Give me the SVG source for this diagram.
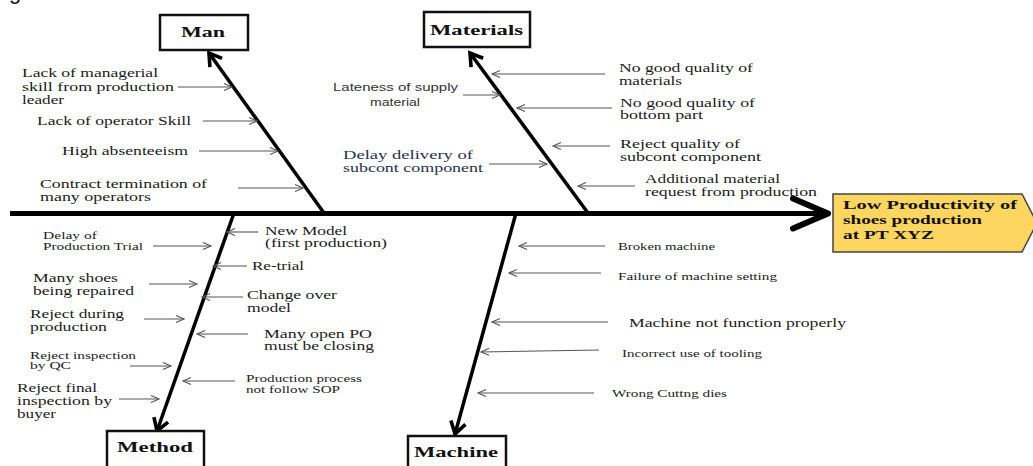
<svg xmlns="http://www.w3.org/2000/svg" width="1033" height="466" viewBox="0 0 1033 466">
<style>
.t{font-family:"Liberation Serif","Times New Roman",serif;font-size:12px;fill:#1c1c1c}
.s{font-size:10px}
.sans{font-family:"Liberation Sans",Arial,sans-serif;font-size:10px;fill:#333}
.navy{fill:#26324f}
.cat{font-family:"Liberation Serif","Times New Roman",serif;font-weight:bold;font-size:15px;fill:#111}
.hd{font-family:"Liberation Serif","Times New Roman",serif;font-weight:bold;font-size:13.5px;fill:#111}
.box{fill:#fff;stroke:#111;stroke-width:2.5}
.bone{stroke:#000;stroke-width:3.5;fill:none;marker-end:url(#b)}
.br{stroke:#555;stroke-width:1.1;fill:none;marker-end:url(#a)}
</style>
<defs>
<marker id="a" markerUnits="userSpaceOnUse" viewBox="-10 -5 12 10" markerWidth="12" markerHeight="10" refX="0" refY="0" orient="auto">
<path d="M-8,-3.5 L0,0 L-8,3.5" fill="none" stroke="#555" stroke-width="1.1"/>
</marker>
<marker id="b" markerUnits="userSpaceOnUse" viewBox="-16 -11 20 22" markerWidth="20" markerHeight="22" refX="0" refY="0" orient="auto">
<path d="M-12,-7.5 L0,0 L-12,7.5" fill="none" stroke="#000" stroke-width="3.6" stroke-linejoin="miter"/>
</marker>
<marker id="sp" markerUnits="userSpaceOnUse" viewBox="-40 -20 46 40" markerWidth="46" markerHeight="40" refX="0" refY="0" orient="auto">
<path d="M-35,-15 L0,0 L-35,15" fill="none" stroke="#000" stroke-width="6" stroke-linecap="round" stroke-linejoin="round"/>
</marker>
</defs>

<text x="9" y="-1" style="font-family:'Liberation Sans',Arial,sans-serif;font-size:22px;fill:#111">g</text>

<g id="connectors">
<line x1="10" y1="213.5" x2="828" y2="213.5" stroke="#000" stroke-width="5" marker-end="url(#sp)"/>
<line class="bone" x1="324" y1="213" x2="209" y2="53"/>
<line class="bone" x1="588" y1="213" x2="470" y2="53"/>
<line class="bone" x1="234" y1="213" x2="157" y2="431"/>
<line class="bone" x1="516" y1="213" x2="455" y2="434"/>
<!-- Man branches -->
<line class="br" x1="178" y1="87" x2="232" y2="87"/>
<line class="br" x1="203" y1="121" x2="257" y2="121"/>
<line class="br" x1="199" y1="151" x2="278" y2="151"/>
<line class="br" x1="238" y1="188" x2="303" y2="188"/>
<!-- Materials branches -->
<line class="br" x1="463" y1="95" x2="500" y2="95"/>
<line class="br" x1="489" y1="164" x2="547" y2="164"/>
<line class="br" x1="605" y1="74" x2="492" y2="74"/>
<line class="br" x1="612" y1="108" x2="517" y2="108"/>
<line class="br" x1="610" y1="146" x2="553" y2="146"/>
<line class="br" x1="635" y1="186" x2="578" y2="186"/>
<!-- Method branches -->
<line class="br" x1="258" y1="232" x2="227" y2="232"/>
<line class="br" x1="247" y1="266" x2="213" y2="266"/>
<line class="br" x1="243" y1="297" x2="202" y2="297"/>
<line class="br" x1="248" y1="334" x2="197" y2="334"/>
<line class="br" x1="235" y1="381" x2="183" y2="381"/>
<line class="br" x1="153" y1="246" x2="211" y2="246"/>
<line class="br" x1="149" y1="284" x2="197" y2="284"/>
<line class="br" x1="144" y1="319" x2="184" y2="319"/>
<line class="br" x1="130" y1="366" x2="171" y2="366"/>
<line class="br" x1="119" y1="399" x2="159" y2="399"/>
<!-- Machine branches -->
<line class="br" x1="605" y1="246" x2="519" y2="246"/>
<line class="br" x1="601" y1="273" x2="509" y2="273"/>
<line class="br" x1="608" y1="322" x2="492" y2="322"/>
<line class="br" x1="599" y1="350" x2="481" y2="352"/>
<line class="br" x1="594" y1="393" x2="478" y2="393"/>
</g>

<g id="head">
<path d="M833,194 L1022,194 L1037,223 L1022,252 L833,252 Z" fill="#fdd662" stroke="#444" stroke-width="1.5"/>
<text class="hd" x="843" y="209" textLength="174" lengthAdjust="spacingAndGlyphs">Low Productivity of</text>
<text class="hd" x="843" y="224" textLength="139" lengthAdjust="spacingAndGlyphs">shoes production</text>
<text class="hd" x="843" y="239" textLength="91" lengthAdjust="spacingAndGlyphs">at PT XYZ</text>
</g>

<g id="man">
<rect class="box" x="160" y="15" width="88" height="35"/>
<text class="cat" x="181" y="37" textLength="44" lengthAdjust="spacingAndGlyphs">Man</text>
<text class="t" x="22" y="77" textLength="136" lengthAdjust="spacingAndGlyphs">Lack of managerial</text>
<text class="t" x="22" y="91" textLength="152" lengthAdjust="spacingAndGlyphs">skill from production</text>
<text class="t" x="22" y="104" textLength="42" lengthAdjust="spacingAndGlyphs">leader</text>
<text class="t" x="37" y="125" textLength="154" lengthAdjust="spacingAndGlyphs">Lack of operator Skill</text>
<text class="t" x="62" y="155" textLength="126" lengthAdjust="spacingAndGlyphs">High absenteeism</text>
<text class="t" x="40" y="188" textLength="167" lengthAdjust="spacingAndGlyphs">Contract termination of</text>
<text class="t" x="40" y="201" textLength="111" lengthAdjust="spacingAndGlyphs">many operators</text>
</g>

<g id="materials">
<rect class="box" x="424" y="12" width="106" height="35"/>
<text class="cat" x="430" y="35" textLength="93" lengthAdjust="spacingAndGlyphs">Materials</text>
<text class="sans" x="333" y="91" textLength="125" lengthAdjust="spacingAndGlyphs">Lateness of supply</text>
<text class="sans" x="370" y="106" textLength="50" lengthAdjust="spacingAndGlyphs">material</text>
<text class="t navy" x="343" y="159" textLength="130" lengthAdjust="spacingAndGlyphs">Delay delivery of</text>
<text class="t navy" x="343" y="172" textLength="140" lengthAdjust="spacingAndGlyphs">subcont component</text>
<text class="t" x="619" y="72" textLength="134" lengthAdjust="spacingAndGlyphs">No good quality of</text>
<text class="t" x="619" y="85" textLength="63" lengthAdjust="spacingAndGlyphs">materials</text>
<text class="t" x="620" y="107" textLength="135" lengthAdjust="spacingAndGlyphs">No good quality of</text>
<text class="t" x="620" y="119" textLength="83" lengthAdjust="spacingAndGlyphs">bottom part</text>
<text class="t" x="620" y="148" textLength="120" lengthAdjust="spacingAndGlyphs">Reject quality of</text>
<text class="t" x="620" y="161" textLength="141" lengthAdjust="spacingAndGlyphs">subcont component</text>
<text class="t" x="645" y="183" textLength="135" lengthAdjust="spacingAndGlyphs">Additional material</text>
<text class="t" x="645" y="196" textLength="172" lengthAdjust="spacingAndGlyphs">request from production</text>
</g>

<g id="method">
<rect class="box" x="107" y="431" width="97" height="45"/>
<text class="cat" x="117" y="452" textLength="76" lengthAdjust="spacingAndGlyphs">Method</text>
<text class="t" x="265" y="235" textLength="82" lengthAdjust="spacingAndGlyphs">New Model</text>
<text class="t" x="265" y="247" textLength="122" lengthAdjust="spacingAndGlyphs">(first production)</text>
<text class="t" x="252" y="270" textLength="52" lengthAdjust="spacingAndGlyphs">Re-trial</text>
<text class="t" x="247" y="299" textLength="90" lengthAdjust="spacingAndGlyphs">Change over</text>
<text class="t" x="247" y="312" textLength="44" lengthAdjust="spacingAndGlyphs">model</text>
<text class="t" x="264" y="338" textLength="108" lengthAdjust="spacingAndGlyphs">Many open PO</text>
<text class="t" x="264" y="350" textLength="110" lengthAdjust="spacingAndGlyphs">must be closing</text>
<text class="t s" x="246" y="382" textLength="116" lengthAdjust="spacingAndGlyphs">Production process</text>
<text class="t s" x="246" y="393" textLength="94" lengthAdjust="spacingAndGlyphs">not follow SOP</text>
<text class="t s" x="43" y="239" textLength="54" lengthAdjust="spacingAndGlyphs">Delay of</text>
<text class="t s" x="43" y="250" textLength="100" lengthAdjust="spacingAndGlyphs">Production Trial</text>
<text class="t" x="33" y="282" textLength="85" lengthAdjust="spacingAndGlyphs">Many shoes</text>
<text class="t" x="33" y="295" textLength="101" lengthAdjust="spacingAndGlyphs">being repaired</text>
<text class="t" x="30" y="318" textLength="94" lengthAdjust="spacingAndGlyphs">Reject during</text>
<text class="t" x="30" y="331" textLength="77" lengthAdjust="spacingAndGlyphs">production</text>
<text class="t s" x="30" y="359" textLength="106" lengthAdjust="spacingAndGlyphs">Reject inspection</text>
<text class="t s" x="30" y="369" textLength="41" lengthAdjust="spacingAndGlyphs">by QC</text>
<text class="t" x="17" y="392" textLength="80" lengthAdjust="spacingAndGlyphs">Reject final</text>
<text class="t" x="17" y="405" textLength="95" lengthAdjust="spacingAndGlyphs">inspection by</text>
<text class="t" x="17" y="418" textLength="39" lengthAdjust="spacingAndGlyphs">buyer</text>
</g>

<g id="machine">
<rect class="box" x="408" y="436" width="98" height="40"/>
<text class="cat" x="414" y="457" textLength="84" lengthAdjust="spacingAndGlyphs">Machine</text>
<text class="t s" x="618" y="250" textLength="97" lengthAdjust="spacingAndGlyphs">Broken machine</text>
<text class="t s" x="618" y="280" textLength="159" lengthAdjust="spacingAndGlyphs">Failure of machine setting</text>
<text class="t" x="629" y="327" textLength="217" lengthAdjust="spacingAndGlyphs">Machine not function properly</text>
<text class="t s" x="622" y="357" textLength="140" lengthAdjust="spacingAndGlyphs">Incorrect use of tooling</text>
<text class="t s" x="612" y="397" textLength="115" lengthAdjust="spacingAndGlyphs">Wrong Cuttng dies</text>
</g>
</svg>
